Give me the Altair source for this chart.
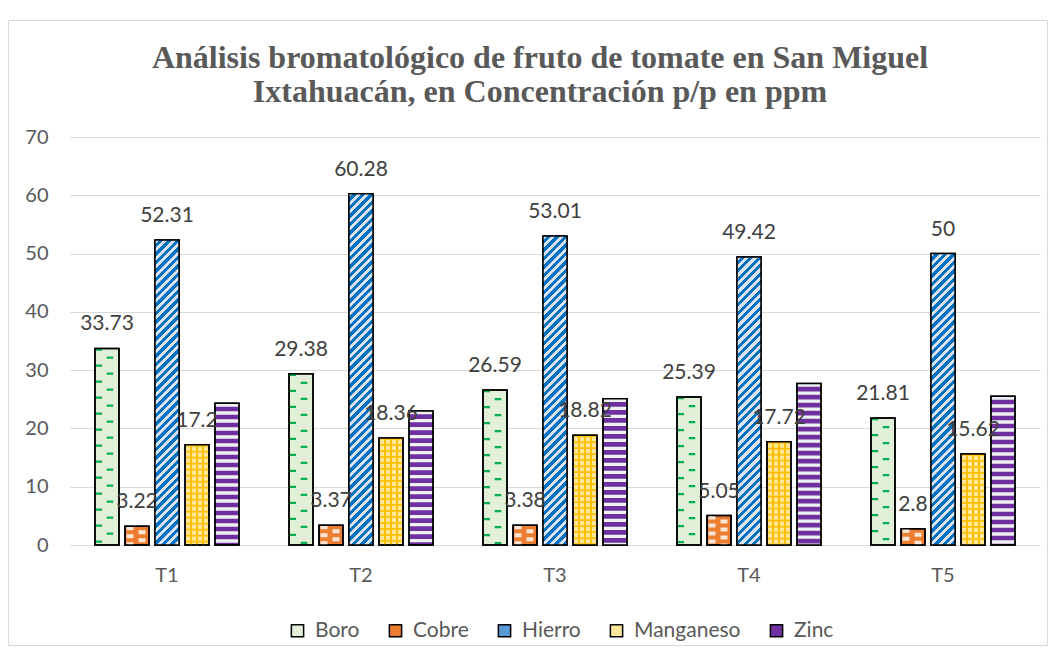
import altair as alt
import pandas as pd

# ---------------- data ----------------
grupos = ["T1", "T2", "T3", "T4", "T5"]
series = ["Boro", "Cobre", "Hierro", "Manganeso", "Zinc"]
boro = [33.73, 29.38, 26.59, 25.39, 21.81]
cobre = [3.22, 3.37, 3.38, 5.05, 2.8]
hierro = [52.31, 60.28, 53.01, 49.42, 50]
manganeso = [17.2, 18.36, 18.82, 17.72, 15.62]
zinc = [24.3, 23.0, 25.1, 27.7, 25.5]
y_ticks = [0, 10, 20, 30, 40, 50, 60, 70]
titulo = ["Análisis bromatológico de fruto de tomate en San Miguel",
          "Ixtahuacán, en Concentración p/p en ppm"]

valores = {"Boro": boro, "Cobre": cobre, "Hierro": hierro,
           "Manganeso": manganeso, "Zinc": zinc}
df = pd.DataFrame([{"grupo": g, "serie": s, "valor": valores[s][i]}
                   for s in series for i, g in enumerate(grupos)])

# ---------------- layout / style ----------------
W, H = 970, 408
YMAX = 70
PPU = H / YMAX
STEP = W / len(grupos)          # band per group
SUB = 30.0                      # stride per bar
PI = 0.2
PO = (STEP / SUB - len(series) + PI) / 2
BAR_W = SUB * (1 - PI)
BAR_START = PO * SUB            # first bar start inside the band

FONT = "Lato"
GRAY = "#595959"

xscale = alt.Scale(paddingInner=0, paddingOuter=0)
X = alt.X("grupo:N", sort=grupos, scale=xscale, title=None)
XO = alt.XOffset("serie:N", sort=series,
                 scale=alt.Scale(domain=series, paddingInner=PI, paddingOuter=PO))
Y = alt.Y("valor:Q", scale=alt.Scale(domain=[0, YMAX], nice=False),
          axis=alt.Axis(values=y_ticks), title=None)
Y2 = alt.Y2Datum(0)


def Xband(pos_px):
    return alt.X("grupo:N", sort=grupos, scale=xscale, title=None,
                 bandPosition=pos_px / STEP)


base = alt.Chart(df)

base_colors = ["#E2F0D9", "#ED7D31", "#5B9BD5", "#FFE699", "#7030A0"]

legend = alt.Legend(orient="none", legendX=217, legendY=483, direction="horizontal",
                    title=None, symbolType="square", symbolSize=150,
                    symbolStrokeColor="black", symbolStrokeWidth=1.5, symbolOpacity=1,
                    labelFont=FONT, labelFontSize=21, labelColor=GRAY,
                    labelOffset=7, columnPadding=25)

bars = base.mark_bar(stroke="black", strokeWidth=1.5).encode(
    x=X, xOffset=XO, y=Y,
    color=alt.Color("serie:N", sort=series,
                    scale=alt.Scale(domain=series, range=base_colors), legend=legend))

# Boro: staggered green dashes
boro_l = base.transform_filter(alt.datum.serie == "Boro").mark_rule(
    color="#00B050", strokeWidth=6.5, strokeDash=[2.3, 13.7], strokeDashOffset=0,
    strokeCap="butt").encode(x=Xband(BAR_START + 3.8), y=Y, y2=Y2)
boro_r = base.transform_filter(alt.datum.serie == "Boro").mark_rule(
    color="#00B050", strokeWidth=6.5, strokeDash=[2.3, 13.7], strokeDashOffset=8,
    strokeCap="butt").encode(x=Xband(BAR_START + 15), y=Y, y2=Y2)

# Cobre: light patches on orange
c0 = BAR_START + SUB
cobre_l = base.transform_filter(alt.datum.serie == "Cobre").mark_rule(
    color="#FBE5D6", strokeWidth=7, strokeDash=[4, 4], strokeDashOffset=0,
    strokeCap="butt").encode(x=Xband(c0 + 5), y=Y, y2=Y2)
cobre_r = base.transform_filter(alt.datum.serie == "Cobre").mark_rule(
    color="#FBE5D6", strokeWidth=7, strokeDash=[4, 4], strokeDashOffset=4,
    strokeCap="butt").encode(x=Xband(c0 + 17), y=Y, y2=Y2)


# Hierro: diagonal stripes via per-bar gradient
def hierro_grad(v, period=8.5, frac=0.5, light="#DAE3F3", blue="#0070C0"):
    h = v * PPU
    w = BAR_W
    tot = w + h
    s = tot / (w * w + h * h)
    m = tot / period
    stops = []
    k = 0
    while k / m < 1:
        t0 = k / m
        t1 = min((k + frac) / m, 1)
        t2 = min((k + 1) / m, 1)
        stops += [alt.GradientStop(color=light, offset=t0),
                  alt.GradientStop(color=light, offset=t1),
                  alt.GradientStop(color=blue, offset=t1),
                  alt.GradientStop(color=blue, offset=t2)]
        k += 1
    return alt.LinearGradient(gradient="linear", stops=stops,
                              x1=0, y1=0, x2=s * w, y2=s * h)


hierro_layers = []
for i, g in enumerate(grupos):
    hierro_layers.append(
        base.transform_filter((alt.datum.serie == "Hierro") & (alt.datum.grupo == g))
        .mark_bar(fill=hierro_grad(hierro[i]))
        .encode(x=X, xOffset=XO, y=Y))

# Manganeso: grid
TR = "rgba(255,255,255,0)"
MN_LINE = "#FFC000"
mstops = []
half = 0.85 / BAR_W
for p in [0.25, 0.5, 0.75]:
    mstops += [alt.GradientStop(color=TR, offset=p - half),
               alt.GradientStop(color=MN_LINE, offset=p - half),
               alt.GradientStop(color=MN_LINE, offset=p + half),
               alt.GradientStop(color=TR, offset=p + half)]
mstops = [alt.GradientStop(color=TR, offset=0)] + mstops + [alt.GradientStop(color=TR, offset=1)]
mn_v = base.transform_filter(alt.datum.serie == "Manganeso").mark_bar(
    fill=alt.LinearGradient(gradient="linear", stops=mstops, x1=0, y1=0, x2=1, y2=0)
).encode(x=X, xOffset=XO, y=Y)
mn_h = base.transform_filter(alt.datum.serie == "Manganeso").mark_rule(
    color=MN_LINE, strokeWidth=BAR_W - 1, strokeDash=[1.7, 4.3], strokeCap="butt"
).encode(x=X, xOffset=XO, y=Y, y2=Y2)

# Zinc: horizontal stripes
zn = base.transform_filter(alt.datum.serie == "Zinc").mark_rule(
    color="#F0F0F0", strokeWidth=BAR_W - 1, strokeDash=[3.3, 4.7], strokeCap="butt"
).encode(x=X, xOffset=XO, y=Y, y2=Y2)

outline = base.mark_bar(fill="transparent", stroke="black", strokeWidth=1.5).encode(
    x=X, xOffset=XO, y=Y)

labels = base.transform_filter(alt.datum.serie != "Zinc").mark_text(
    font=FONT, fontSize=21, color="#404040", dy=-18, baseline="alphabetic"
).encode(x=X, xOffset=XO, y=Y, text=alt.Text("valor:Q"))

frame = alt.Chart(alt.Data(values=[{"k": 1}])).mark_rect(
    fill="transparent", stroke="#D9D9D9", strokeWidth=1
).encode(x=alt.value(-61.5), x2=alt.value(977.5), y=alt.value(-116.5), y2=alt.value(508.5))

chart = alt.layer(
    frame, bars, boro_l, boro_r, cobre_l, cobre_r, *hierro_layers, mn_v, mn_h, zn,
    outline, labels
).properties(
    width=W, height=H,
    autosize=alt.AutoSizeParams(type="none"),
    padding={"left": 62, "top": 129, "right": 8, "bottom": 101},
    title=alt.TitleParams(text=titulo, font="Liberation Serif", fontSize=32,
                          fontWeight="bold", color=GRAY, anchor="middle",
                          frame="group", dx=-15, offset=-89, lineHeight=34),
).configure_view(stroke="transparent").configure_axis(
    labelFont=FONT, labelFontSize=20, labelColor=GRAY, ticks=False, domain=False,
    gridColor="#D9D9D9", gridWidth=1
).configure_axisX(grid=False, labelPadding=20, labelAngle=0).configure_axisY(
    grid=True, labelPadding=22)

chart.save("out.html", embed_options={"renderer": "svg", "actions": False})
